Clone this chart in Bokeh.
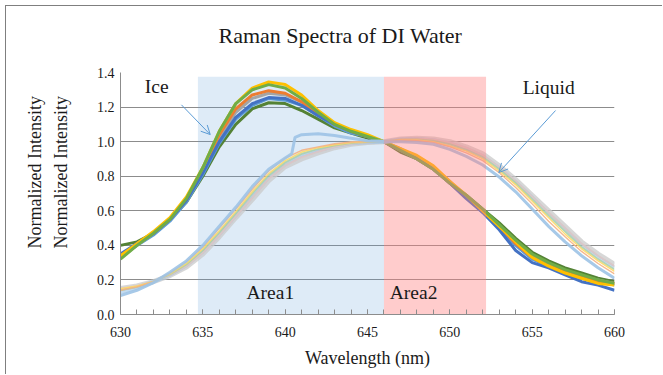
from bokeh.plotting import figure
from bokeh.models import Label, Arrow, OpenHead, FixedTicker, PrintfTickFormatter, Title
from bokeh.embed import file_html
from bokeh.resources import INLINE

# ---------------- data ----------------
wavelength = list(range(630, 661))

# Ice spectra
ice_yellow = [0.34, 0.41, 0.48, 0.56, 0.68, 0.85, 1.06, 1.22, 1.31, 1.345, 1.33, 1.27, 1.18, 1.11, 1.07, 1.04, 1.00,
              0.96, 0.92, 0.86, 0.77, 0.69, 0.60, 0.51, 0.42, 0.33, 0.28, 0.24, 0.21, 0.18, 0.17]
ice_green = [0.32, 0.40, 0.47, 0.55, 0.67, 0.85, 1.06, 1.22, 1.30, 1.33, 1.31, 1.25, 1.17, 1.10, 1.06, 1.03, 1.00,
             0.95, 0.90, 0.84, 0.76, 0.69, 0.61, 0.52, 0.43, 0.35, 0.30, 0.26, 0.23, 0.20, 0.18]
ice_orange = [0.34, 0.41, 0.47, 0.55, 0.67, 0.84, 1.04, 1.19, 1.27, 1.295, 1.28, 1.23, 1.16, 1.10, 1.06, 1.03, 1.00,
              0.95, 0.91, 0.85, 0.76, 0.68, 0.60, 0.51, 0.41, 0.33, 0.28, 0.25, 0.22, 0.19, 0.18]
ice_gray = [0.33, 0.40, 0.47, 0.55, 0.66, 0.83, 1.02, 1.17, 1.25, 1.28, 1.27, 1.23, 1.16, 1.10, 1.06, 1.03, 1.00,
            0.96, 0.91, 0.85, 0.77, 0.68, 0.60, 0.51, 0.42, 0.34, 0.29, 0.25, 0.22, 0.20, 0.18]
ice_blue = [0.35, 0.41, 0.47, 0.55, 0.66, 0.82, 1.00, 1.14, 1.22, 1.255, 1.25, 1.21, 1.15, 1.10, 1.06, 1.03, 1.00,
            0.95, 0.91, 0.85, 0.76, 0.67, 0.59, 0.49, 0.37, 0.30, 0.27, 0.23, 0.19, 0.17, 0.14]
ice_lightblue = [0.34, 0.40, 0.46, 0.54, 0.65, 0.81, 0.99, 1.13, 1.21, 1.25, 1.24, 1.21, 1.15, 1.09, 1.05, 1.03, 1.00,
                 0.95, 0.90, 0.84, 0.76, 0.68, 0.59, 0.50, 0.40, 0.32, 0.28, 0.24, 0.21, 0.19, 0.17]
ice_darkgreen = [0.40, 0.42, 0.47, 0.55, 0.65, 0.80, 0.97, 1.10, 1.19, 1.225, 1.22, 1.18, 1.13, 1.08, 1.05, 1.02, 1.00,
                 0.94, 0.90, 0.84, 0.76, 0.69, 0.61, 0.53, 0.44, 0.36, 0.31, 0.27, 0.24, 0.21, 0.19]

# Liquid spectra (liq_a has a small step near 640.5 nm, so its own wavelength list)
liq_a_wavelength = [630, 631, 632, 633, 634, 635, 636, 637, 638, 639, 640, 640.4, 640.6, 641, 642, 643, 644, 645,
                    646, 647, 648, 649, 650, 651, 652, 653, 654, 655, 656, 657, 658, 659, 660]
liq_a = [0.11, 0.14, 0.185, 0.245, 0.31, 0.40, 0.51, 0.62, 0.74, 0.84, 0.905, 0.93, 1.025, 1.04, 1.045, 1.035, 1.02,
         1.005, 1.0, 1.0, 0.995, 0.985, 0.955, 0.915, 0.865, 0.795, 0.71, 0.61, 0.51, 0.42, 0.34, 0.27, 0.21]
liq_b = [0.14, 0.16, 0.19, 0.24, 0.305, 0.39, 0.50, 0.61, 0.725, 0.83, 0.905, 0.95, 0.97, 0.988, 0.998, 1.0, 1.0,
         1.008, 1.005, 0.995, 0.97, 0.935, 0.89, 0.82, 0.735, 0.64, 0.54, 0.45, 0.365, 0.295, 0.235]
liq_c = [0.15, 0.165, 0.19, 0.235, 0.295, 0.38, 0.485, 0.595, 0.71, 0.815, 0.89, 0.94, 0.965, 0.982, 0.995, 1.0, 1.0,
         1.01, 1.01, 1.0, 0.975, 0.945, 0.90, 0.83, 0.75, 0.655, 0.56, 0.465, 0.38, 0.31, 0.25]
liq_d = [0.14, 0.16, 0.19, 0.232, 0.29, 0.372, 0.475, 0.585, 0.70, 0.805, 0.88, 0.93, 0.958, 0.978, 0.992, 0.998, 1.0,
         1.012, 1.014, 1.005, 0.985, 0.952, 0.91, 0.84, 0.76, 0.665, 0.572, 0.48, 0.39, 0.32, 0.26]
liq_e = [0.13, 0.155, 0.188, 0.23, 0.285, 0.365, 0.465, 0.575, 0.685, 0.795, 0.87, 0.92, 0.95, 0.975, 0.99, 0.997, 1.0,
         1.012, 1.015, 1.008, 0.99, 0.958, 0.915, 0.845, 0.765, 0.675, 0.58, 0.49, 0.40, 0.33, 0.27]
liq_f = [0.15, 0.165, 0.19, 0.228, 0.28, 0.357, 0.457, 0.567, 0.675, 0.785, 0.862, 0.91, 0.942, 0.97, 0.988, 0.996, 1.0,
         1.014, 1.018, 1.012, 0.995, 0.965, 0.922, 0.852, 0.772, 0.682, 0.59, 0.50, 0.41, 0.34, 0.28]
liq_g = [0.15, 0.165, 0.19, 0.225, 0.275, 0.35, 0.45, 0.56, 0.665, 0.775, 0.855, 0.90, 0.935, 0.965, 0.985, 0.995, 1.0,
         1.015, 1.02, 1.015, 1.0, 0.97, 0.93, 0.86, 0.78, 0.69, 0.60, 0.51, 0.42, 0.35, 0.29]

# shaded areas (nm) and their vertical extent
area_left = [634.7, 646.0]
area_right = [646.0, 652.2]
area_top = [1.375, 1.375]
area_bottom = [-0.01, -0.01]

x_ticks = [630, 635, 640, 645, 650, 655, 660]
x_minor = [w for w in range(630, 661)]
y_ticks = [0.0, 0.2, 0.4, 0.6, 0.8, 1.0, 1.2, 1.4]

# ---------------- figure ----------------
SERIF = "Liberation Serif"
TXT = "#1a1a1a"
GRID = "#8c8c8c"
FRAME = "#7f7f7f"

p = figure(width=662, height=374, output_backend="svg", toolbar_location=None,
           x_range=(630, 660), y_range=(0, 1.4),
           min_border_left=119, min_border_right=48, min_border_top=72, min_border_bottom=60)
# chart-area border (left and top edges) drawn behind a transparent canvas border
p.styles = {
    "background-color": "white",
    "background-image": f"linear-gradient({FRAME}, {FRAME}), linear-gradient({FRAME}, {FRAME})",
    "background-size": "1px 100%, 100% 1px",
    "background-position": "5px 5px, 5px 5px",
    "background-repeat": "no-repeat",
}
p.outline_line_color = None
p.background_fill_color = "white"
p.border_fill_color = None

# title
p.title.text = "Raman Spectra of DI Water"
p.title.align = "left"
p.title.offset = 98
p.title.vertical_align = "top"
p.title.standoff = 45
p.title.text_font = SERIF
p.title.text_font_size = "22px"
p.title.text_font_style = "normal"
p.title.text_color = TXT

# axes
p.xaxis.ticker = FixedTicker(ticks=x_ticks, minor_ticks=x_minor)
p.yaxis.ticker = FixedTicker(ticks=y_ticks)
p.yaxis.formatter = PrintfTickFormatter(format="%.1f")
p.xgrid.visible = False
p.ygrid.grid_line_color = GRID
p.ygrid.grid_line_width = 1

for ax in (p.xaxis, p.yaxis):
    ax.axis_line_color = GRID
    ax.major_label_text_font = SERIF
    ax.major_label_text_font_size = "14px"
    ax.major_label_text_color = TXT

p.xaxis.major_tick_in = 5
p.xaxis.major_tick_out = 0
p.xaxis.minor_tick_in = 5
p.xaxis.minor_tick_out = 0
p.xaxis.major_tick_line_color = GRID
p.xaxis.minor_tick_line_color = GRID
p.xaxis.major_label_standoff = 12
p.xaxis.axis_label = "Wavelength (nm)"
p.xaxis.axis_label_text_font = SERIF
p.xaxis.axis_label_text_font_size = "18px"
p.xaxis.axis_label_text_font_style = "normal"
p.xaxis.axis_label_text_color = TXT
p.xaxis.axis_label_standoff = 8

p.yaxis.major_tick_line_color = None
p.yaxis.minor_tick_line_color = None
p.yaxis.major_tick_in = 0
p.yaxis.major_tick_out = 0
p.yaxis.major_label_standoff = 6

# two-line y axis title on the left side
p.add_layout(Title(text="Normalized Intensity\nNormalized Intensity", align="left", offset=66, standoff=45,
                   text_font=SERIF, text_font_size="18px", text_font_style="normal",
                   text_line_height=1.28, text_color=TXT), "left")

# blue area under curves
p.quad(left=area_left[0:1], right=area_right[0:1], top=area_top[0:1], bottom=area_bottom[0:1],
       fill_color="#5b9bd5", fill_alpha=0.2, line_color=None)

# ice curves
ice_series = [
    (ice_darkgreen, "#548235"),
    (ice_lightblue, "#5b9bd5"),
    (ice_gray, "#a5a5a5"),
    (ice_orange, "#ed7d31"),
    (ice_blue, "#4472c4"),
    (ice_yellow, "#ffc000"),
    (ice_green, "#70ad47"),
]
for vals, col in ice_series:
    p.line(wavelength, vals, line_color=col, line_width=3.0)

# liquid curves
liq_series = [
    (wavelength, liq_g, "#c9c9c9", 5.0, 0.75),
    (wavelength, liq_e, "#9dc3e6", 4.0, 0.6),
    (wavelength, liq_f, "#e2c6c2", 2.0, 0.8),
    (wavelength, liq_d, "#a9d18e", 2.0, 0.6),
    (wavelength, liq_c, "#ffd966", 1.4, 0.9),
    (wavelength, liq_b, "#f4b183", 1.4, 0.9),
    (liq_a_wavelength, liq_a, "#9dc3e6", 3.0, 0.9),
]
for xs, vals, col, w, a in liq_series:
    p.line(xs, vals, line_color=col, line_width=w, line_alpha=a)

# pink area over curves
p.quad(left=area_left[1:2], right=area_right[1:2], top=area_top[1:2], bottom=area_bottom[1:2],
       fill_color="#ff7f7f", fill_alpha=0.4, line_color=None)

# arrows
ARROW = "#5b9bd5"
p.add_layout(Arrow(end=OpenHead(size=9, line_color=ARROW, line_width=1),
                   x_start=633.70, y_start=1.213, x_end=635.45, y_end=1.041,
                   line_color=ARROW, line_width=1))
p.add_layout(Arrow(end=OpenHead(size=9, line_color=ARROW, line_width=1),
                   x_start=656.42, y_start=1.18, x_end=652.97, y_end=0.821,
                   line_color=ARROW, line_width=1))

# text annotations
def lab(x, y, text, size):
    p.add_layout(Label(x=x, y=y, text=text,
                       text_font=SERIF, text_font_size=size, text_color=TXT,
                       text_align="center", text_baseline="middle"))

lab(632.2, 1.319, "Ice", "19.5px")
lab(656.0, 1.313, "Liquid", "19.5px")
lab(639.1, 0.127, "Area1", "19.5px")
lab(647.8, 0.127, "Area2", "19.5px")

open("out.html", "w").write(file_html(p, INLINE))
